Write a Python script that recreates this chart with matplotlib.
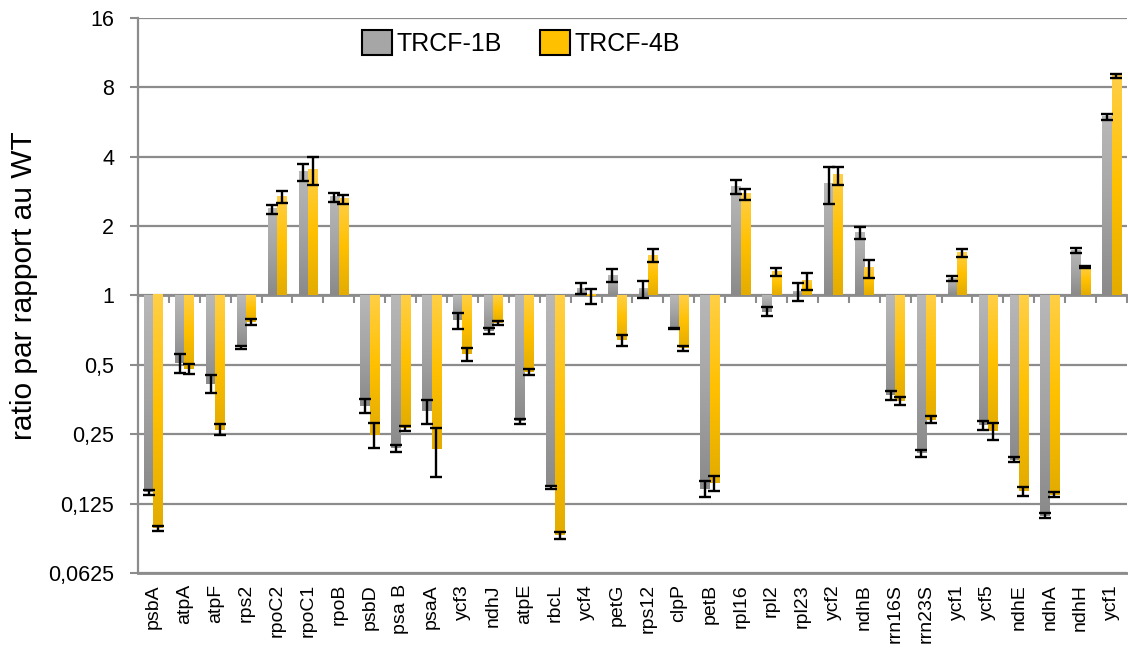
import numpy as np
import matplotlib.pyplot as plt
from matplotlib.colors import LinearSegmentedColormap
from matplotlib.patches import Patch

plt.rcParams['font.family'] = 'Liberation Sans'

genes = ['psbA', 'atpA', 'atpF', 'rps2', 'rpoC2', 'rpoC1', 'rpoB', 'psbD', 'psa B', 'psaA',
         'ycf3', 'ndhJ', 'atpE', 'rbcL', 'ycf4', 'petG', 'rps12', 'clpP', 'petB', 'rpl16',
         'rpl2', 'rpl23', 'ycf2', 'ndhB', 'rrn16S', 'rrn23S', 'ycf1', 'ycf5', 'ndhE', 'ndhA',
         'ndhH', 'ycf1']

trcf1b = [0.14, 0.51, 0.414, 0.596, 2.37, 3.42, 2.67, 0.332, 0.217, 0.314,
          0.78, 0.70, 0.284, 0.147, 1.07, 1.22, 1.07, 0.717, 0.145, 2.96,
          0.85, 1.04, 3.05, 1.87, 0.37, 0.2065, 1.18, 0.273, 0.194, 0.111,
          1.566, 5.94]
err1b = [0.0036, 0.05, 0.038, 0.01, 0.107, 0.29, 0.125, 0.024, 0.008, 0.038,
         0.062, 0.022, 0.007, 0.002, 0.06, 0.08, 0.09, 0.005, 0.011, 0.2,
         0.038, 0.09, 0.56, 0.11, 0.017, 0.007, 0.03, 0.011, 0.005, 0.0026,
         0.04, 0.17]

trcf4b = [0.0975, 0.48, 0.262, 0.77, 2.68, 3.5, 2.62, 0.249, 0.265, 0.215,
          0.555, 0.76, 0.465, 0.091, 0.99, 0.64, 1.49, 0.59, 0.153, 2.75,
          1.26, 1.155, 3.32, 1.31, 0.349, 0.289, 1.53, 0.259, 0.1415, 0.1365,
          1.33, 8.93]
err4b = [0.0028, 0.025, 0.015, 0.023, 0.15, 0.48, 0.115, 0.03, 0.006, 0.052,
         0.037, 0.016, 0.014, 0.003, 0.076, 0.036, 0.094, 0.016, 0.011, 0.15,
         0.05, 0.095, 0.29, 0.115, 0.013, 0.01, 0.064, 0.022, 0.0065, 0.0035,
         0.01, 0.19]

yticks = [1 / 16, 1 / 8, 1 / 4, 1 / 2, 1, 2, 4, 8, 16]
ylabels = ['0,0625', '0,125', '0,25', '0,5', '1', '2', '4', '8', '16']

GRIS = '#8c8c8c'
cm_gris = LinearSegmentedColormap.from_list('gris', ['#b8b8b8', '#a4a4a4', '#8a8a8a'])
cm_jaune = LinearSegmentedColormap.from_list('jaune', ['#ffcf45', '#ffc000', '#e3ac00'])


# remplit chaque barre avec un degrade vertical (clair en haut, fonce en bas)
def degrade(ax, barres, cmap):
    inv = ax.transAxes.inverted()
    grad = np.linspace(0, 1, 64).reshape(-1, 1)
    for b in barres:
        pts = inv.transform(ax.transData.transform(b.get_bbox().get_points()))
        x0, x1 = sorted(pts[:, 0])
        y0, y1 = sorted(pts[:, 1])
        ax.imshow(grad, cmap=cmap, extent=(x0, x1, y0, y1), transform=ax.transAxes,
                  aspect='auto', origin='upper', zorder=2.5, interpolation='bilinear')


fig = plt.figure(figsize=(11.28, 6.51), dpi=100)
ax = fig.add_axes([0.1223, 0.1198, 0.8768, 0.8526])
ax.set_autoscale_on(False)
ax.set_yscale('log', base=2)
ax.set_ylim(1 / 16, 16)
ax.set_xlim(-0.5, len(genes) - 0.5)

X = np.arange(len(genes))
w = 0.3
p1 = ax.bar(X - w / 2, np.array(trcf1b) - 1, w, bottom=1, color='#a0a0a0', zorder=2)
p2 = ax.bar(X + w / 2, np.array(trcf4b) - 1, w, bottom=1, color='#ffc000', zorder=2)
degrade(ax, p1, cm_gris)
degrade(ax, p2, cm_jaune)

ax.errorbar(X - w / 2, trcf1b, yerr=err1b, fmt='none', ecolor='black',
            elinewidth=1.7, capsize=4.3, capthick=1.7, zorder=4)
ax.errorbar(X + w / 2, trcf4b, yerr=err4b, fmt='none', ecolor='black',
            elinewidth=1.7, capsize=4.3, capthick=1.7, zorder=4)

# axes
ax.set_yticks(yticks)
ax.set_yticklabels(ylabels, fontsize=15.5)
ax.minorticks_off()
ax.yaxis.grid(True, color=GRIS, linewidth=1.6, zorder=0)
ax.set_axisbelow(True)
ax.tick_params(axis='y', length=6, width=1.5, color=GRIS, pad=11)
ax.set_xticks(X)
ax.set_xticklabels(genes, rotation=90, fontsize=14)
ax.tick_params(axis='x', length=0, pad=8)
for s in ['top', 'right']:
    ax.spines[s].set_visible(False)
ax.spines['left'].set_color(GRIS)
ax.spines['left'].set_linewidth(1.6)
ax.spines['bottom'].set_color(GRIS)
ax.spines['bottom'].set_linewidth(2)

# axe horizontal au niveau 1 avec les graduations entre categories
sec = ax.secondary_xaxis(1, transform=ax.transData)
sec.set_alignment('bottom')
sec.set_xticks(np.arange(len(genes) + 1) - 0.5)
sec.tick_params(axis='x', length=6, width=1.5, color=GRIS, labelbottom=False, labeltop=False)
sec.spines['bottom'].set_color(GRIS)
sec.spines['bottom'].set_linewidth(2)

ax.set_ylabel('ratio par rapport au WT', fontsize=21.5)
ax.yaxis.set_label_coords(-0.101, 0.517)

handles = [Patch(facecolor='#a6a6a6', edgecolor='black', linewidth=1.5),
           Patch(facecolor='#ffc000', edgecolor='black', linewidth=1.5)]
fig.legend(handles, ['TRCF-1B', 'TRCF-4B'], loc='center', bbox_to_anchor=(0.462, 0.934),
           ncol=2, frameon=False, fontsize=18, handlelength=1.2, handleheight=1.2,
           handletextpad=0.2, columnspacing=1.5)

fig.savefig('out.png', dpi=100)
